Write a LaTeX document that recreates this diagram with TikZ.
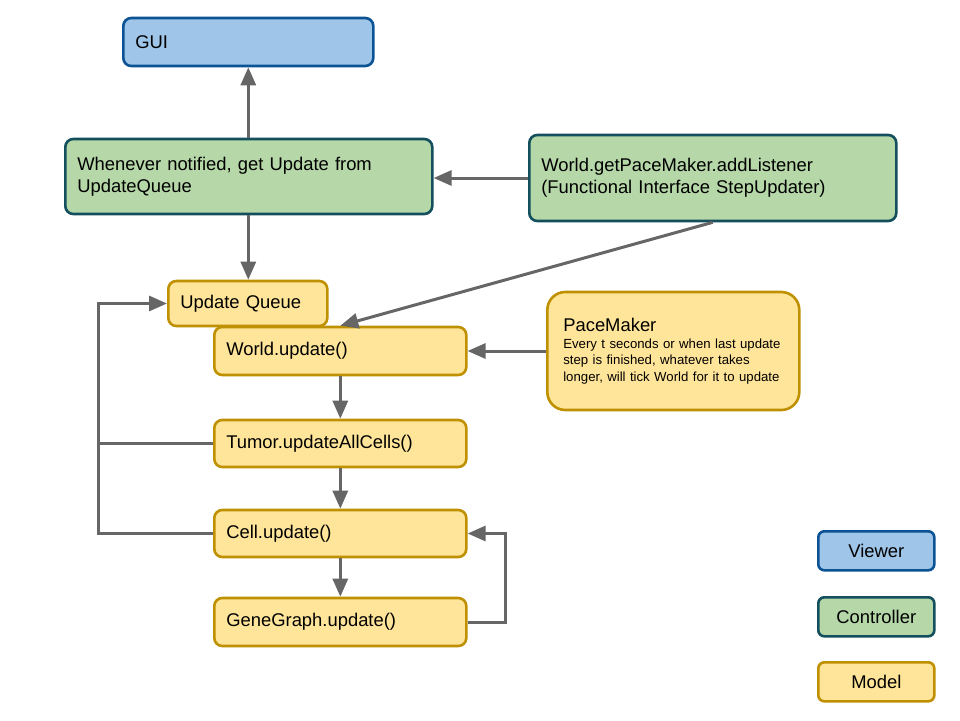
\documentclass[tikz,border=0pt]{standalone}
\usepackage{fontspec}
\setmainfont{Liberation Sans}
\usetikzlibrary{arrows.meta}
\definecolor{vfill}{HTML}{9FC5E8}
\definecolor{vdraw}{HTML}{0B5394}
\definecolor{cfill}{HTML}{B6D7A8}
\definecolor{cdraw}{HTML}{134F5C}
\definecolor{mfill}{HTML}{FFE599}
\definecolor{mdraw}{HTML}{BF9000}
\definecolor{arr}{HTML}{666666}
\tikzset{
  box/.style={line width=2.6pt, rounded corners=8pt, align=left, inner xsep=12pt, inner ysep=4pt, anchor=west, font=\fontsize{18.4}{22}\selectfont},
  viewer/.style={box, draw=vdraw, fill=vfill},
  ctrl/.style={box, draw=cdraw, fill=cfill},
  model/.style={box, draw=mdraw, fill=mfill},
  legend/.style={align=center, minimum width=116pt, minimum height=39pt, anchor=north west, line width=2.6pt, rounded corners=6pt, font=\fontsize{18.4}{22}\selectfont},
  conn/.style={draw=arr, line width=3pt},
  arrow/.style={conn, -{Triangle[length=18pt,width=15pt]}},
}
\begin{document}
\begin{tikzpicture}[x=1pt,y=-1pt]
\useasboundingbox (0,0) rectangle (960,720);
% viewer
\node[viewer, text width=226pt, minimum height=48pt] (gui) at (122,42) {GUI};
% controllers
\node[ctrl, text width=343pt, minimum height=75pt] (c1) at (64,176.5) {Whenever notified, get Update from\\UpdateQueue};
\node[ctrl, text width=343pt, minimum height=86pt] (c2) at (528,178) {World.getPaceMaker.addListener\\(Functional Interface StepUpdater)};
% model
\node[model, text width=135pt, minimum height=45pt] (queue) at (167,303.5) {Update Queue};
\node[model, text width=228pt, minimum height=48pt] (world) at (213,351) {World.update()};
\node[model, text width=228pt, minimum height=47pt] (tumor) at (213,443.5) {Tumor.updateAllCells()};
\node[model, text width=228pt, minimum height=47pt] (cell) at (213,533.5) {Cell.update()};
\node[model, text width=228pt, minimum height=48pt] (gene) at (213,622) {GeneGraph.update()};
\node[model, rounded corners=18pt, inner xsep=16pt, text width=220pt, minimum height=118pt, font=\fontsize{13.2}{16.5}\selectfont] (pace) at (546,351)
  {{\fontsize{18.4}{19}\selectfont PaceMaker}\\Every t seconds or when last update\\step is finished, whatever takes\\longer, will tick World for it to update};
% legend
\node[legend, draw=vdraw, fill=vfill] (lv) at (817,530) {Viewer};
\node[legend, draw=cdraw, fill=cfill] (lc) at (817,596) {Controller};
\node[legend, draw=mdraw, fill=mfill] (lm) at (817,661) {Model};
% connectors
\coordinate (lx) at (98,0);
\coordinate (rx) at (505,0);
\draw[arrow] (c1.north -| gui.south) -- (gui.south);
\draw[arrow] (c1.south -| gui.south) -- (gui.south |- queue.north);
\draw[arrow] (c2.west) -- (c2.west -| c1.east);
\draw[arrow] (c2.south) -- (world.north);
\draw[arrow] (world.south) -- (tumor.north);
\draw[arrow] (tumor.south) -- (cell.north);
\draw[arrow] (cell.south) -- (gene.north);
\draw[arrow] (pace.west) -- (world.east);
\draw[arrow] (gene.east) -- (gene.east -| rx) |- (cell.east);
\draw[arrow] (cell.west) -- (cell.west -| lx) |- (queue.west);
\draw[conn] (tumor.west) -- (tumor.west -| lx);
\end{tikzpicture}
\end{document}
